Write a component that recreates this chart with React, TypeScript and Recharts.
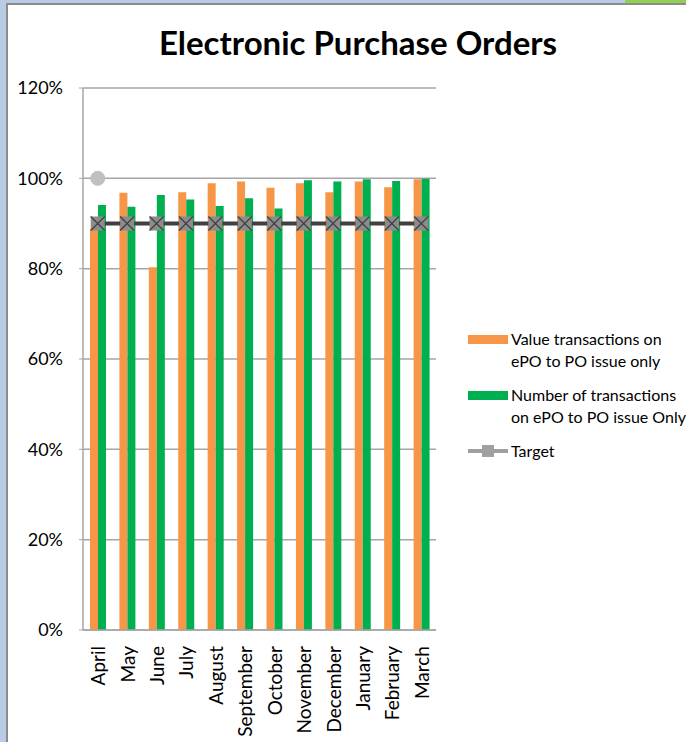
import {
  ComposedChart,
  Bar,
  Line,
  XAxis,
  YAxis,
  CartesianGrid,
} from 'recharts';

const months = ['April', 'May', 'June', 'July', 'August', 'September', 'October', 'November', 'December', 'January', 'February', 'March'];
const valueShare = [88.8, 96.8, 80.3, 96.9, 98.9, 99.3, 97.9, 98.9, 96.9, 99.3, 98.0, 99.8];
const countShare = [94.1, 93.7, 96.3, 95.3, 93.9, 95.6, 93.3, 99.6, 99.3, 99.8, 99.4, 99.9];
const target = [90, 90, 90, 90, 90, 90, 90, 90, 90, 90, 90, 90];
const extraPoint = [100, null, null, null, null, null, null, null, null, null, null, null];
const yTicks = [0, 20, 40, 60, 80, 100, 120];

const ORANGE = '#F79646';
const GREEN = '#00B050';
const FONT = 'Lato, "Open Sans", sans-serif';

const data = months.map((m, i) => ({
  month: m,
  value: valueShare[i],
  count: countShare[i],
  target: target[i],
  extra: extraPoint[i],
}));

// square marker with an X through it
const TargetDot = (props: any) => {
  const { cx, cy } = props;
  if (cx == null || cy == null) return null;
  const s = 7;
  return (
    <g>
      <rect x={cx - s} y={cy - s} width={s * 2} height={s * 2} fill="#8c8c8c" />
      <line x1={cx - s} y1={cy - s} x2={cx + s} y2={cy + s} stroke="#404040" strokeWidth={1.2} />
      <line x1={cx - s} y1={cy + s} x2={cx + s} y2={cy - s} stroke="#404040" strokeWidth={1.2} />
    </g>
  );
};

const MonthTick = (props: any) => {
  const { x, y, payload } = props;
  return (
    <text
      x={x}
      y={y + 8}
      transform={`rotate(-90 ${x} ${y + 8})`}
      textAnchor="end"
      dominantBaseline="central"
      fontSize={19}
      fontFamily={FONT}
      fill="#000"
    >
      {payload.value}
    </text>
  );
};

const LegendBox = () => {
  const row = { display: 'flex', alignItems: 'flex-start', marginBottom: 12 } as const;
  const text = { fontSize: 16, lineHeight: '22px', color: '#000', fontFamily: FONT, whiteSpace: 'nowrap' } as const;
  return (
    <div>
      <div style={row}>
        <span style={{ width: 40, height: 9, background: ORANGE, marginTop: 7, marginRight: 3 }} />
        <span style={text}>Value transactions on<br />ePO to PO issue only</span>
      </div>
      <div style={row}>
        <span style={{ width: 40, height: 9, background: GREEN, marginTop: 7, marginRight: 3 }} />
        <span style={text}>Number of transactions<br />on ePO to PO issue Only</span>
      </div>
      <div style={row}>
        <svg width={40} height={22} style={{ marginRight: 3 }}>
          <line x1={0} y1={11} x2={40} y2={11} stroke="#a0a0a0" strokeWidth={4} />
          <rect x={14} y={5} width={12} height={12} fill="#a0a0a0" />
        </svg>
        <span style={text}>Target</span>
      </div>
    </div>
  );
};

export default function App() {
  return (
    <div style={{ position: 'absolute', left: 0, top: 0, width: 686, height: 742, background: '#fff', overflow: 'hidden' }}>
      <div style={{ position: 'absolute', left: 0, top: 0, width: 6, height: 742, background: '#b8cce4' }} />
      <div style={{ position: 'absolute', left: 0, top: 0, width: 686, height: 3, background: '#b8cce4' }} />
      <div style={{ position: 'absolute', left: 625, top: 0, width: 61, height: 3, background: '#92d050' }} />
      <div style={{ position: 'absolute', left: 6, top: 3, width: 2, height: 739, background: '#8c8c8c' }} />
      <div style={{ position: 'absolute', left: 6, top: 3, width: 680, height: 2, background: '#8c8c8c' }} />
      <div
        style={{
          position: 'absolute',
          left: 0,
          width: 716,
          top: 22,
          textAlign: 'center',
          fontFamily: FONT,
          fontWeight: 'bold',
          fontSize: 33,
          color: '#000',
        }}
      >
        Electronic Purchase Orders
      </div>
      <ComposedChart
        width={686}
        height={742}
        data={data}
        margin={{ top: 88, right: 250, bottom: 0, left: 0 }}
        barGap={0}
        barSize={8}
        style={{ position: 'absolute', left: 0, top: 0 }}
      >
        <CartesianGrid vertical={false} stroke="#a6a6a6" strokeWidth={1.5} />
        <XAxis
          dataKey="month"
          tick={<MonthTick />}
          tickLine={false}
          axisLine={{ stroke: '#a6a6a6', strokeWidth: 1.5 }}
          interval={0}
          height={112}
        />
        <YAxis
          domain={[0, 120]}
          ticks={yTicks}
          tickFormatter={(v: number) => `${v}%`}
          width={83}
          tickSize={4}
          tickMargin={16}
          tickLine={{ stroke: '#a6a6a6' }}
          axisLine={{ stroke: '#a6a6a6', strokeWidth: 1.5 }}
          tick={{ fontSize: 18, fill: '#000', fontFamily: FONT }}
        />
        <Bar dataKey="value" fill={ORANGE} isAnimationActive={false} />
        <Bar dataKey="count" fill={GREEN} isAnimationActive={false} />
        <Line
          dataKey="target"
          stroke="#404040"
          strokeWidth={4}
          dot={<TargetDot />}
          activeDot={false}
          isAnimationActive={false}
        />
        <Line
          dataKey="extra"
          stroke="none"
          dot={{ r: 7, fill: '#c0c0c0', stroke: '#c0c0c0' }}
          activeDot={false}
          legendType="none"
          isAnimationActive={false}
        />
      </ComposedChart>
      <div style={{ position: 'absolute', left: 468, top: 328 }}>
        <LegendBox />
      </div>
    </div>
  );
}
